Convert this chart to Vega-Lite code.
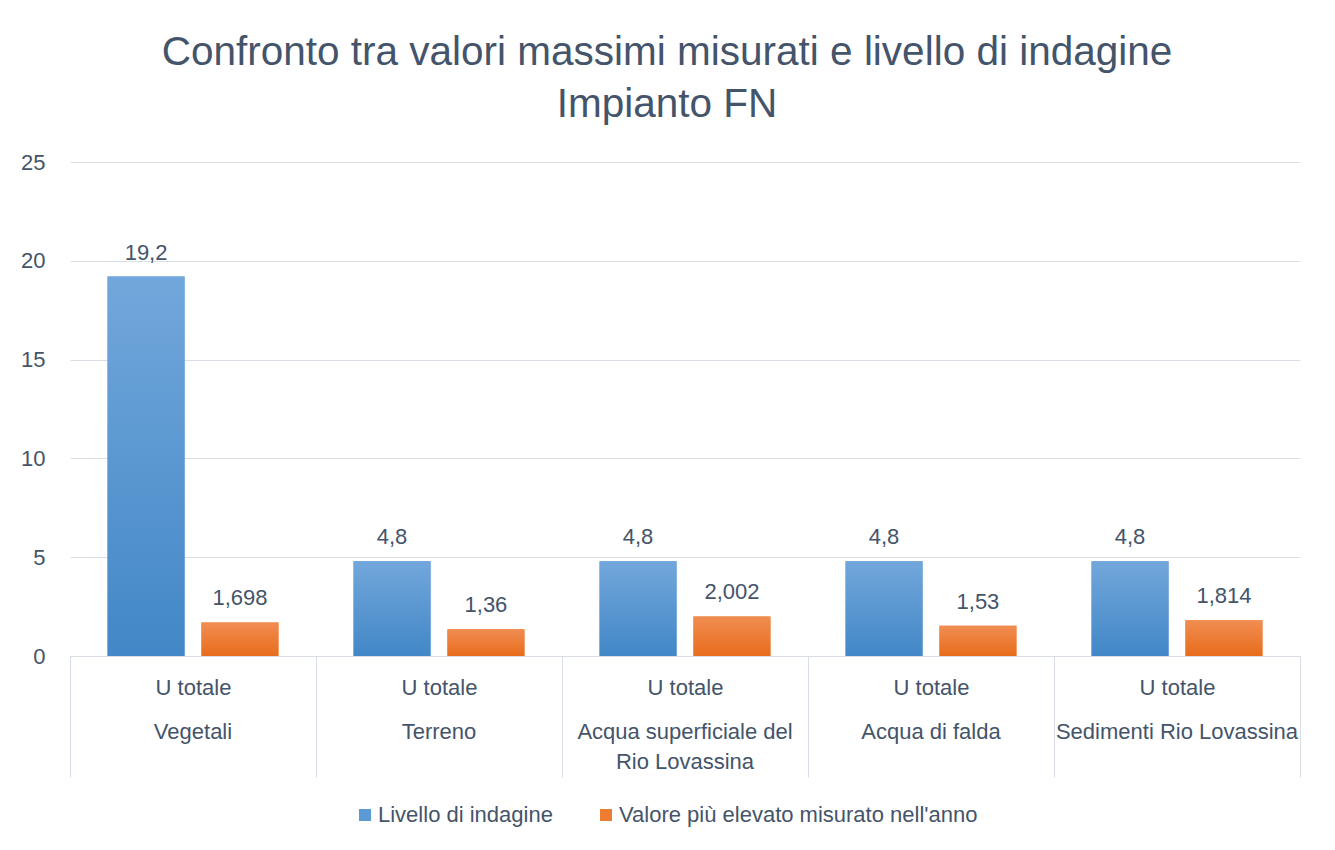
{
  "$schema": "https://vega.github.io/schema/vega-lite/v6.json",
  "width": 1230,
  "height": 494,
  "autosize": {"type": "pad"},
  "padding": {"left": 20, "top": 32, "right": 35, "bottom": 10},
  "background": "white",
  "config": {
    "locale": {"number": {"decimal": ",", "thousands": ".", "grouping": [3], "currency": ["€", ""]}},
    "font": "Liberation Sans",
    "view": {"stroke": null}
  },
  "title": {
    "text": ["Confronto tra valori massimi misurati e livello di indagine", "Impianto FN"],
    "fontSize": 40.5,
    "font": "Liberation Sans",
    "fontWeight": "normal",
    "color": "#44546a",
    "lineHeight": 52,
    "anchor": "middle",
    "dx": -18,
    "offset": 26
  },
  "data": {
    "values": [
      {"categoria": "Vegetali", "serie": "Livello di indagine", "valore": 19.2},
      {"categoria": "Vegetali", "serie": "Valore più elevato misurato nell'anno", "valore": 1.698},
      {"categoria": "Terreno", "serie": "Livello di indagine", "valore": 4.8},
      {"categoria": "Terreno", "serie": "Valore più elevato misurato nell'anno", "valore": 1.36},
      {"categoria": "Acqua superficiale del Rio Lovassina", "serie": "Livello di indagine", "valore": 4.8},
      {"categoria": "Acqua superficiale del Rio Lovassina", "serie": "Valore più elevato misurato nell'anno", "valore": 2.002},
      {"categoria": "Acqua di falda", "serie": "Livello di indagine", "valore": 4.8},
      {"categoria": "Acqua di falda", "serie": "Valore più elevato misurato nell'anno", "valore": 1.53},
      {"categoria": "Sedimenti Rio Lovassina", "serie": "Livello di indagine", "valore": 4.8},
      {"categoria": "Sedimenti Rio Lovassina", "serie": "Valore più elevato misurato nell'anno", "valore": 1.814}
    ]
  },
  "encoding": {
    "xOffset": {"field": "serie", "sort": null, "scale": {"paddingInner": 0.18, "paddingOuter": 0.4}},
    "y": {
      "field": "valore",
      "type": "quantitative",
      "scale": {"domain": [0, 25], "nice": false},
      "axis": {
        "title": null,
        "values": [0, 5, 10, 15, 20, 25],
        "domain": false,
        "ticks": false,
        "labelPadding": 25,
        "labelFontSize": 22,
        "labelColor": "#44546a",
        "gridColor": "#d9dee6",
        "gridWidth": 1
      }
    }
  },
  "resolve": {"axis": {"x": "independent"}},
  "layer": [
    {
      "mark": {"type": "bar"},
      "encoding": {
        "x": {
          "field": "categoria",
          "type": "nominal",
          "sort": null,
          "scale": {"paddingInner": 0, "paddingOuter": 0},
          "axis": {
            "orient": "bottom",
            "title": null,
            "labelAngle": 0,
            "domainColor": "#d9dee6",
            "domainWidth": 1,
            "tickColor": "#d9dee6",
            "tickWidth": 1,
            "tickSize": 121,
            "tickBand": "extent",
            "labelPadding": -100,
            "labelBaseline": "top",
            "labelFontSize": 22,
            "labelColor": "#44546a",
            "labelOverlap": false,
            "labelLimit": 400,
            "labelExpr": "(datum.label == '' || datum.label == null) ? '' : 'U totale'"
          }
        },
        "color": {
          "field": "serie",
          "type": "nominal",
          "sort": null,
          "scale": {"range": ["#5b9bd5", "#ed7d31"]},
          "legend": {
            "title": null,
            "orient": "none",
            "legendX": 284,
            "legendY": 642,
            "direction": "horizontal",
            "symbolType": "square",
            "symbolSize": 144,
            "symbolStrokeWidth": 0,
            "labelFontSize": 22,
            "labelColor": "#44546a",
            "labelOffset": 2,
            "columnPadding": 42,
            "labelLimit": 500,
            "encode": {
              "symbols": {
                "update": {
                  "fill": {"signal": "datum.index == 0 ? {gradient: 'linear', x1: 0, y1: 0, x2: 0, y2: 1, stops: [{offset: 0, color: '#72a7db'}, {offset: 1, color: '#4287c7'}]} : {gradient: 'linear', x1: 0, y1: 0, x2: 0, y2: 1, stops: [{offset: 0, color: '#f18d52'}, {offset: 1, color: '#e86c1c'}]}"}
                }
              }
            }
          }
        }
      }
    },
    {
      "mark": {"type": "bar"},
      "encoding": {
        "x": {
          "field": "categoria",
          "type": "nominal",
          "sort": null,
          "scale": {"paddingInner": 0, "paddingOuter": 0},
          "axis": {
            "orient": "bottom",
            "title": null,
            "labelAngle": 0,
            "domain": false,
            "ticks": false,
            "labelPadding": 65,
            "labelBaseline": "top",
            "labelFontSize": 22,
            "labelColor": "#44546a",
            "labelLineHeight": 30,
            "labelOverlap": false,
            "labelLimit": 400,
            "labelExpr": "datum.value == 'Acqua superficiale del Rio Lovassina' ? ['Acqua superficiale del', 'Rio Lovassina'] : datum.label"
          }
        },
        "color": {
          "condition": {
            "test": "datum.serie == 'Livello di indagine'",
            "value": {"gradient": "linear", "x1": 0, "y1": 0, "x2": 0, "y2": 1, "stops": [{"offset": 0, "color": "#72a7db"}, {"offset": 1, "color": "#4287c7"}]}
          },
          "value": {"gradient": "linear", "x1": 0, "y1": 0, "x2": 0, "y2": 1, "stops": [{"offset": 0, "color": "#f18d52"}, {"offset": 1, "color": "#e86c1c"}]}
        }
      }
    },
    {
      "mark": {"type": "text", "baseline": "alphabetic", "dy": -17, "fontSize": 22, "color": "#44546a"},
      "encoding": {
        "x": {"field": "categoria", "type": "nominal", "sort": null, "axis": null},
        "text": {"field": "valore", "type": "quantitative", "format": ".4~"}
      }
    }
  ]
}
